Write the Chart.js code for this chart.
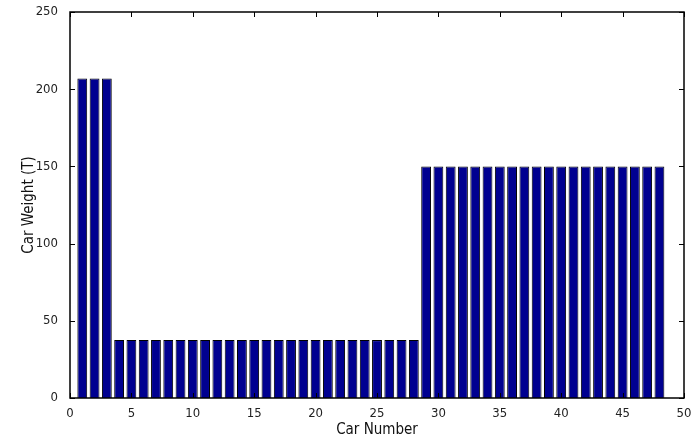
<!DOCTYPE html>
<html>
<head>
<meta charset="utf-8">
<script src="https://cdn.jsdelivr.net/npm/chart.js@4/dist/chart.umd.min.js"></script>
<style>
  html, body { margin: 0; padding: 0; background: #fff; }
  #wrap { width: 695px; height: 439px; }
</style>
</head>
<body>
<div id="wrap"><canvas id="myChart" width="695" height="439"></canvas></div>
<script>
'use strict'
// car numbers along the train and the weight of each one (T)
let carNumbers = [1, 2, 3, 4, 5, 6, 7, 8, 9, 10, 11, 12, 13, 14, 15, 16, 17, 18, 19, 20, 21, 22, 23, 24,
    25, 26, 27, 28, 29, 30, 31, 32, 33, 34, 35, 36, 37, 38, 39, 40, 41, 42, 43, 44, 45, 46, 47, 48];
let carWeights = [207, 207, 207, 37.5, 37.5, 37.5, 37.5, 37.5, 37.5, 37.5, 37.5, 37.5, 37.5, 37.5, 37.5, 37.5,
    37.5, 37.5, 37.5, 37.5, 37.5, 37.5, 37.5, 37.5, 37.5, 37.5, 37.5, 37.5,
    150, 150, 150, 150, 150, 150, 150, 150, 150, 150, 150, 150, 150, 150, 150, 150, 150, 150, 150, 150];
let xTicks = [0, 5, 10, 15, 20, 25, 30, 35, 40, 45, 50];
let yTicks = [0, 50, 100, 150, 200, 250];

let fontFamily = '"DejaVu Sans Condensed", "Liberation Sans Narrow", "Roboto", sans-serif';

// matlab style box with the little ticks pointing inside
let boxTicks = {
    id: 'boxTicks',
    afterDraw(chart) {
        let ctx = chart.ctx;
        let a = chart.chartArea;
        let xs = chart.scales.x;
        let ys = chart.scales.y;
        ctx.save();
        ctx.strokeStyle = '#000';
        ctx.lineWidth = 1.5;
        ctx.strokeRect(a.left, a.top, a.right - a.left, a.bottom - a.top);
        ctx.lineWidth = 1;
        ctx.beginPath();
        xTicks.forEach(function (v) {
            let px = Math.round(xs.getPixelForValue(v)) + 0.5;
            ctx.moveTo(px, a.bottom); ctx.lineTo(px, a.bottom - 5);
            ctx.moveTo(px, a.top); ctx.lineTo(px, a.top + 5);
        });
        yTicks.forEach(function (v) {
            let py = Math.round(ys.getPixelForValue(v)) + 0.5;
            ctx.moveTo(a.left, py); ctx.lineTo(a.left + 5, py);
            ctx.moveTo(a.right, py); ctx.lineTo(a.right - 5, py);
        });
        ctx.stroke();
        ctx.restore();
    }
};

let points = [];
for (let i = 0; i < carNumbers.length; i++) {
    points.push({ x: carNumbers[i], y: carWeights[i] });
}

let ctx = document.getElementById('myChart').getContext('2d');
let weightChart = new Chart(ctx, {
    type: 'bar',
    data: {
        datasets: [{
            label: 'Car Weight',
            data: points,
            backgroundColor: '#000090',
            borderColor: '#000',
            borderWidth: 1,
            categoryPercentage: 1,
            barPercentage: 0.8
        }]
    },
    options: {
        responsive: false,
        animation: false,
        layout: { padding: { top: 12, right: 11, left: 20, bottom: 0 } },
        plugins: { legend: { display: false }, tooltip: { enabled: false } },
        scales: {
            x: {
                type: 'linear',
                offset: false,
                min: 0,
                max: 50,
                afterBuildTicks: function (s) { s.ticks = xTicks.map(function (v) { return { value: v }; }); },
                afterFit: function (s) { s.height = 41; },
                grid: { display: false },
                border: { display: false },
                ticks: { color: '#222', padding: 0, maxRotation: 0, font: { family: fontFamily, size: 13 } },
                title: { display: true, text: 'Car Number', color: '#111', padding: { top: 0, bottom: 0 }, font: { family: fontFamily, size: 15 } }
            },
            y: {
                min: 0,
                max: 250,
                afterBuildTicks: function (s) { s.ticks = yTicks.map(function (v) { return { value: v }; }); },
                afterFit: function (s) { s.width = 50; },
                grid: { display: false },
                border: { display: false },
                ticks: { color: '#222', padding: 4, font: { family: fontFamily, size: 13 } },
                title: { display: true, text: 'Car Weight (T)', color: '#111', padding: { top: 0, bottom: 0 }, font: { family: fontFamily, size: 15 } }
            }
        }
    },
    plugins: [boxTicks]
});
</script>
</body>
</html>
